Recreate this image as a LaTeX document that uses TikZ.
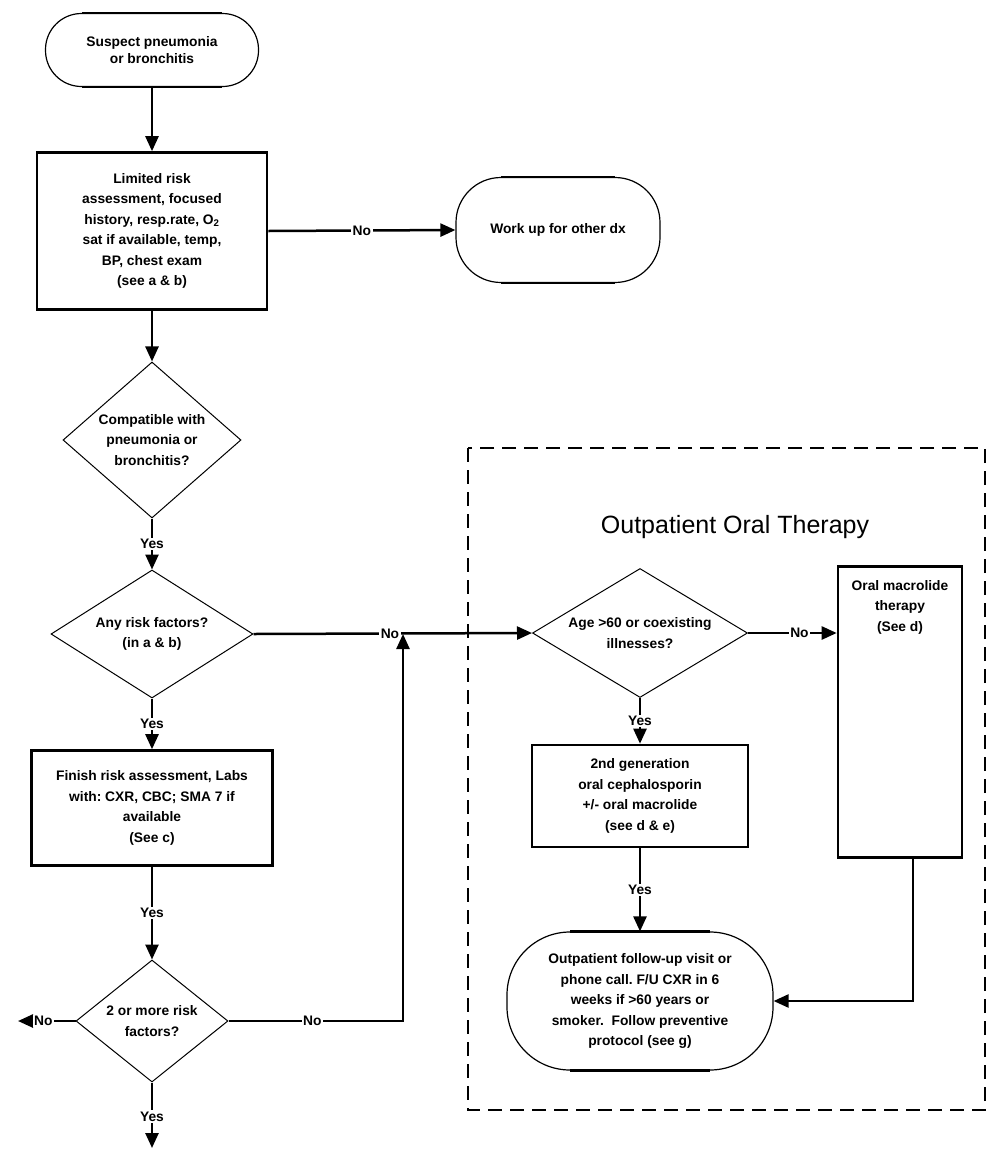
\documentclass[tikz,border=0pt]{standalone}
\usepackage{fontspec}
\setmainfont{Liberation Sans}
\usetikzlibrary{shapes.geometric,arrows.meta}
\frenchspacing

\tikzset{
  boxfont/.style={font=\bfseries\fontsize{13.8}{20.5}\selectfont},
  term/.style={rectangle, draw, line width=1.2pt, inner sep=0pt, align=center, boxfont},
  proc/.style={rectangle, draw, line width=2.6pt, inner sep=0pt, align=center, boxfont},
  decide/.style={diamond, draw, line width=1pt, inner sep=0pt, align=center, boxfont},
  lbl/.style={fill=white, inner sep=1.5pt, font=\bfseries\fontsize{13.8}{16}\selectfont},
  link/.style={line width=2.5pt},
  arr/.style={link, -{Triangle[length=15pt,width=13pt]}},
}

\begin{document}
\begin{tikzpicture}[x=1pt,y=-1pt]
\useasboundingbox (0,0) rectangle (1003,1152);
%\draw[step=50,gray,very thin] (0,0) grid (1003,1152); %background grid

% dashed group for outpatient part
\draw[line width=1.4pt, dash pattern=on 14pt off 8pt] (468,448) rectangle (985,1110);
\node[font=\fontsize{25}{30}\selectfont] (title) at (735,527) {Outpatient Oral Therapy};

% left column
\node[term, rounded corners=36pt, minimum width=213pt, minimum height=73pt,
      font=\bfseries\fontsize{13.8}{17}\selectfont] (start) at (152,50)
      {Suspect pneumonia\\or bronchitis};
\node[proc, minimum width=230pt, minimum height=157pt] (lim) at (152,231)
      {Limited risk\\assessment, focused\\history, resp.rate, O\textsubscript{2}\\sat if available, temp,\\BP, chest exam\\(see a \& b)};
\node[term, rounded corners=45pt, minimum width=204pt, minimum height=105pt] (workup) at (558,230)
      {Work up for other dx};
\node[decide, aspect=1.14, minimum width=178pt, minimum height=156pt] (compat) at (152,440)
      {Compatible with\\pneumonia or\\bronchitis?};
\node[decide, aspect=1.58, minimum width=202pt, minimum height=128pt] (anyrisk) at (152,634)
      {Any risk factors?\\(in a \& b)};
\node[proc, minimum width=241pt, minimum height=115pt] (finish) at (152,808)
      {Finish risk assessment, Labs\\with: CXR, CBC; SMA 7 if\\available\\(See c)};
\node[decide, aspect=1.25, minimum width=152pt, minimum height=122pt] (twomore) at (152,1021)
      {2 or more risk\\factors?};

% right column
\node[decide, aspect=1.67, minimum width=215pt, minimum height=129pt] (age) at (640,633)
      {Age >60 or coexisting\\illnesses?};
\node[proc, minimum width=124pt, minimum height=291pt] (oral) at (900,712) {};
\node[boxfont, align=center, anchor=north, inner sep=0pt] (oraltxt) at ([yshift=-15pt]oral.north)
      {Oral macrolide\\therapy\\(See d)};
\node[proc, minimum width=216pt, minimum height=102pt] (gen) at (640,796)
      {2nd generation\\oral cephalosporin\\+/- oral macrolide\\(see d \& e)};
\node[term, rounded corners=63pt, minimum width=266pt, minimum height=138pt] (fin) at (640,1001)
      {Outpatient follow-up visit or\\phone call. F/U CXR in 6\\weeks if >60 years or\\smoker.\ \ Follow preventive\\protocol (see g)};

% thick flat edges of the terminators
\foreach \t/\h in {start/70, workup/57, fin/70}{
  \draw[line width=2.6pt] ([xshift=-\h pt]\t.north) -- ([xshift=\h pt]\t.north);
  \draw[line width=2.6pt] ([xshift=-\h pt]\t.south) -- ([xshift=\h pt]\t.south);
}

\coordinate (join) at (403,634);
\coordinate (noleft) at (18,1021);
\coordinate (yesend) at (152,1148);

% connectors
\draw[arr] (start) -- (lim);
\draw[arr] (lim.east) -- node[lbl]{No} (workup.west);
\draw[arr] (lim) -- (compat);
\draw[arr] (compat) -- node[lbl]{Yes} (anyrisk);
\draw[arr] (anyrisk.east) -- node[lbl, pos=0.49]{No} (age.west);
\draw[arr] (anyrisk) -- node[lbl]{Yes} (finish);
\draw[arr] (finish) -- node[lbl]{Yes} (twomore);
\draw[arr] (twomore.west) -- node[lbl, pos=0.56]{No} (noleft);
\draw[arr] (twomore.east) -| node[lbl, pos=0.24]{No} (join);
\draw[arr] (twomore.south) -- node[lbl, pos=0.52]{Yes} (yesend);

\draw[arr] (age.east) -- node[lbl, pos=0.58]{No} (age.east -| oral.west);
\draw[arr] (age) -- node[lbl]{Yes} (gen);
\draw[arr] (gen) -- node[lbl]{Yes} (fin);
\draw[arr] ([xshift=13pt]oral.south) |- (fin.east);
\end{tikzpicture}
\end{document}
